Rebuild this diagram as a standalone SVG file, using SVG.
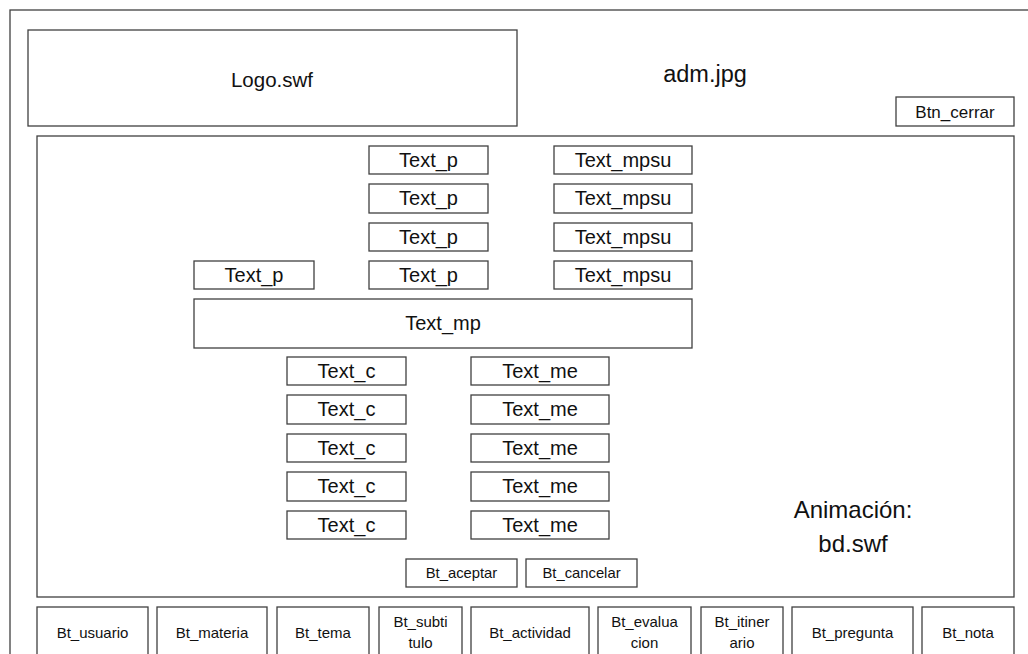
<svg xmlns="http://www.w3.org/2000/svg" width="1028" height="654" viewBox="0 0 1028 654">
<style>
.b{fill:#fff;stroke:#404040;stroke-width:1.3}
text{font-family:"Liberation Sans",Arial,sans-serif;fill:#111;text-anchor:middle}
.f19{font-size:20px}
.f14{font-size:15px}
.f13{font-size:14.8px}
.f17{font-size:17px}
.f22{font-size:24px}
</style>
<rect width="1028" height="654" fill="#fff"/>
<g id="frame"><rect class="b" x="10" y="10" width="1030" height="660"/></g>
<g id="logo"><rect class="b" x="28" y="30" width="489" height="96"/><text style="font-size:20.5px" x="272" y="87">Logo.swf</text></g>
<g id="adm"><text style="font-size:23.5px" x="705" y="82">adm.jpg</text></g>
<g id="btn_cerrar"><rect class="b" x="896" y="97" width="118" height="29"/><text class="f17" x="955" y="118">Btn_cerrar</text></g>
<g id="content"><rect class="b" x="37" y="136" width="977" height="461"/></g>
<g id="text_p_rows">
<g id="tp1"><rect class="b" x="369" y="146" width="119" height="28"/><text class="f19" x="428.5" y="167">Text_p</text></g>
<g id="tp2"><rect class="b" x="369" y="184" width="119" height="29"/><text class="f19" x="428.5" y="205">Text_p</text></g>
<g id="tp3"><rect class="b" x="369" y="223" width="119" height="28"/><text class="f19" x="428.5" y="244">Text_p</text></g>
<g id="tp4"><rect class="b" x="369" y="261" width="119" height="28"/><text class="f19" x="428.5" y="282">Text_p</text></g>
<g id="tp0"><rect class="b" x="194" y="261" width="120" height="28"/><text class="f19" x="254" y="282">Text_p</text></g>
</g>
<g id="text_mpsu_rows">
<g id="tm1"><rect class="b" x="554" y="146" width="138" height="28"/><text class="f19" x="623" y="167">Text_mpsu</text></g>
<g id="tm2"><rect class="b" x="554" y="184" width="138" height="29"/><text class="f19" x="623" y="205">Text_mpsu</text></g>
<g id="tm3"><rect class="b" x="554" y="223" width="138" height="28"/><text class="f19" x="623" y="244">Text_mpsu</text></g>
<g id="tm4"><rect class="b" x="554" y="261" width="138" height="28"/><text class="f19" x="623" y="282">Text_mpsu</text></g>
</g>
<g id="text_mp"><rect class="b" x="194" y="299" width="498" height="49"/><text class="f19" x="443" y="330">Text_mp</text></g>
<g id="text_c_rows">
<g id="tc1"><rect class="b" x="287" y="357" width="119" height="28"/><text class="f19" x="346.5" y="378">Text_c</text></g>
<g id="tc2"><rect class="b" x="287" y="395" width="119" height="29"/><text class="f19" x="346.5" y="416">Text_c</text></g>
<g id="tc3"><rect class="b" x="287" y="434" width="119" height="28"/><text class="f19" x="346.5" y="455">Text_c</text></g>
<g id="tc4"><rect class="b" x="287" y="472" width="119" height="29"/><text class="f19" x="346.5" y="493">Text_c</text></g>
<g id="tc5"><rect class="b" x="287" y="511" width="119" height="28"/><text class="f19" x="346.5" y="532">Text_c</text></g>
</g>
<g id="text_me_rows">
<g id="te1"><rect class="b" x="471" y="357" width="138" height="28"/><text class="f19" x="540" y="378">Text_me</text></g>
<g id="te2"><rect class="b" x="471" y="395" width="138" height="29"/><text class="f19" x="540" y="416">Text_me</text></g>
<g id="te3"><rect class="b" x="471" y="434" width="138" height="28"/><text class="f19" x="540" y="455">Text_me</text></g>
<g id="te4"><rect class="b" x="471" y="472" width="138" height="29"/><text class="f19" x="540" y="493">Text_me</text></g>
<g id="te5"><rect class="b" x="471" y="511" width="138" height="28"/><text class="f19" x="540" y="532">Text_me</text></g>
</g>
<g id="bt_aceptar"><rect class="b" x="406" y="559" width="111" height="28"/><text class="f13" x="461.5" y="578">Bt_aceptar</text></g>
<g id="bt_cancelar"><rect class="b" x="526" y="559" width="111" height="28"/><text class="f13" x="581.5" y="578">Bt_cancelar</text></g>
<g id="animacion"><text class="f22" x="853" y="518">Animación:</text><text class="f22" x="853" y="552">bd.swf</text></g>
<g id="bottom_bar">
<g id="bt_usuario"><rect class="b" x="37" y="607" width="111" height="60"/><text class="f14" x="92.5" y="638">Bt_usuario</text></g>
<g id="bt_materia"><rect class="b" x="157" y="607" width="110" height="60"/><text class="f14" x="212" y="638">Bt_materia</text></g>
<g id="bt_tema"><rect class="b" x="277" y="607" width="92" height="60"/><text class="f14" x="323" y="638">Bt_tema</text></g>
<g id="bt_subtitulo"><rect class="b" x="379" y="607" width="83" height="60"/><text class="f14" x="420.5" y="627">Bt_subti</text><text class="f14" x="420.5" y="648">tulo</text></g>
<g id="bt_actividad"><rect class="b" x="471" y="607" width="118" height="60"/><text class="f14" x="530" y="638">Bt_actividad</text></g>
<g id="bt_evaluacion"><rect class="b" x="598" y="607" width="93" height="60"/><text class="f14" x="644.5" y="627">Bt_evalua</text><text class="f14" x="644.5" y="648">cion</text></g>
<g id="bt_itinerario"><rect class="b" x="701" y="607" width="82" height="60"/><text class="f14" x="742" y="627">Bt_itiner</text><text class="f14" x="742" y="648">ario</text></g>
<g id="bt_pregunta"><rect class="b" x="792" y="607" width="121" height="60"/><text class="f14" x="852.5" y="638">Bt_pregunta</text></g>
<g id="bt_nota"><rect class="b" x="922" y="607" width="92" height="60"/><text class="f14" x="968" y="638">Bt_nota</text></g>
</g>
<g id="connectors"/>
</svg>
